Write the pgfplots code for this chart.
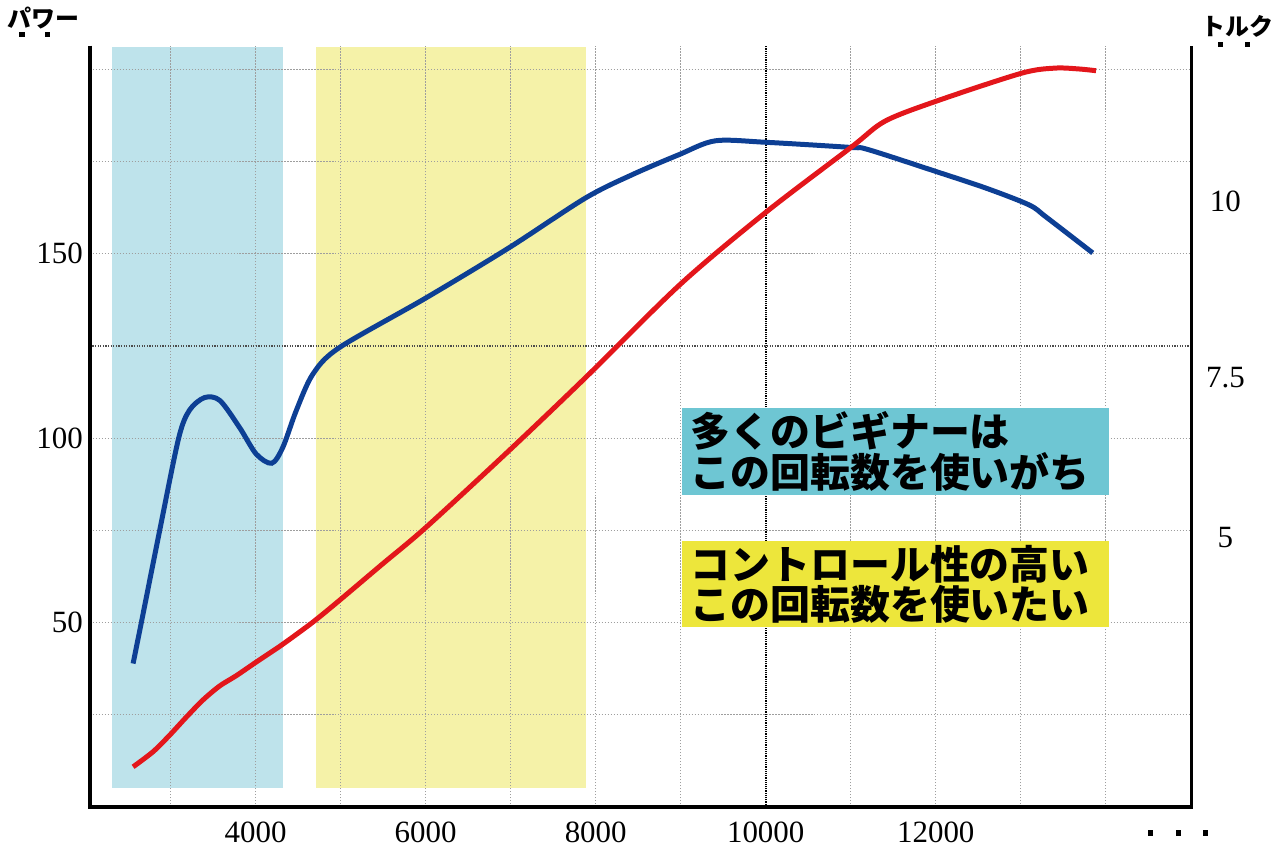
\documentclass[border=0pt]{standalone}
\usepackage{fontspec}
\setmainfont{Liberation Serif}
\newfontfamily\jp{Noto Sans CJK JP}
\usepackage{pgfplots}
\pgfplotsset{compat=1.18}
\definecolor{bgcyan}{HTML}{BEE3EB}
\definecolor{bgyellow}{HTML}{F5F2A8}
\definecolor{boxcyan}{HTML}{6EC6D3}
\definecolor{boxyellow}{HTML}{EDE63B}
\definecolor{pblue}{HTML}{0D3F94}
\definecolor{tred}{HTML}{E3161B}
\begin{document}
\begin{tikzpicture}
\path (-45pt,-23pt) rectangle (595pt,403.5pt);
\pgfplotsset{common/.style={scale only axis, width=552pt, height=381.5pt,
  xmin=2050, xmax=15008, ymin=0, ymax=206.4, at={(0,0)}, anchor=south west,
  axis line style={draw=none}, major tick length=0pt,
  scaled x ticks=false, scaled y ticks=false,
  ticklabel style={font=\fontsize{15.5}{18}\selectfont},
  /pgf/number format/assume math mode=true,
  /pgf/number format/set thousands separator={}}}
% background bands and right-hand (torque) labels
\begin{axis}[common, xtick=\empty, ytick={73.1,116.4,164.2}, yticklabels={5,7.5,10},
  yticklabel pos=right, yticklabel style={anchor=center, xshift=17pt}]
\addplot[fill=bgcyan, draw=none] coordinates {(2312,5.1) (4319,5.1) (4319,206.1) (2312,206.1)} -- cycle;
\addplot[fill=bgyellow, draw=none] coordinates {(4711,5.1) (7887,5.1) (7887,206.1) (4711,206.1)} -- cycle;
\end{axis}
% main axis
\begin{axis}[common, name=main, grid=major,
  grid style={color=black!38, line width=0.6pt, dash pattern=on 0.6pt off 0.9pt},
  xtick={3000,4000,5000,6000,7000,8000,9000,11000,12000,13000,14000},
  xticklabels={,4000,,6000,,8000,,,12000,,},
  extra x ticks={10000}, extra x tick labels={10000},
  extra x tick style={grid style={color=black, line width=0.8pt, dash pattern=on 0.6pt off 0.5pt}},
  ytick={25,50,75,100,150,175,200}, yticklabels={,50,,100,150,,},
  extra y ticks={125}, extra y tick labels={},
  extra y tick style={grid style={color=black!70, line width=0.7pt, dash pattern=on 0.6pt off 0.7pt}},
  xticklabel style={yshift=-4pt}]
\addplot[pblue, line width=2.5pt, smooth, tension=0.5] coordinates {
(2559,38.9) (2656,50.0) (2872,75.0) (3095,100.0) (3223,107.6) (3400,111.0)
(3580,110.2) (3811,102.9) (4007,95.7) (4190,93.2) (4320,97.5) (4477,107.4)
(4672,117.3) (4982,124.5) (6003,138.0) (6980,151.6) (7880,165.1) (8428,171.4)
(8975,176.8) (9406,180.6) (10000,180.2) (11002,178.8) (11208,178.2) (12000,172.3)
(12600,167.7) (13100,163.2) (13300,159.9) (13846,150.2)};
\addplot[tred, line width=2.5pt, smooth, tension=0.5] coordinates {
(2559,10.9) (2794,15.0) (2990,19.5) (3186,24.4) (3380,29.0) (3576,32.8) (3772,35.6)
(4007,39.3) (4280,43.5) (4515,47.4) (4711,50.8) (4985,56.0) (5493,65.9) (6003,75.8)
(6980,96.6) (7880,116.4) (8995,141.7) (10000,161.2) (11002,178.8) (11401,185.9)
(12000,191.3) (13005,198.9) (13397,200.3) (13670,200.1) (13885,199.6)};
\node[fill=boxcyan, text width=205pt, align=left, inner xsep=4.5pt, inner ysep=2pt,
  minimum height=42.5pt, font=\jp\bfseries\fontsize{20}{19}\selectfont]
  at (axis cs:11522,96.4) {多くのビギナーは\\この回転数を使いがち};
\node[fill=boxyellow, text width=205pt, align=left, inner xsep=4.5pt, inner ysep=2pt,
  minimum height=42.5pt, font=\jp\bfseries\fontsize{20}{19}\selectfont]
  at (axis cs:11522,60.4) {コントロール性の高い\\この回転数を使いたい};
\end{axis}
\draw[line width=1.8pt, line join=miter] (main.north west) -- (main.south west) -- (main.south east) -- (main.north east);
\node[font=\jp\bfseries\fontsize{12}{12}\selectfont] at (-23pt,395.5pt) {パワー};
\node[font=\jp\bfseries\fontsize{12}{12}\selectfont] at (575pt,391pt) {トルク};
\foreach \p in {(-34pt,387pt),(-21pt,387pt),(566.5pt,382pt),(580pt,382pt),(531.5pt,-13pt),(545.5pt,-13pt),(559pt,-13pt)}{
  \fill \p ++(-1.3pt,-1.3pt) rectangle ++(2.6pt,2.6pt);
}
\end{tikzpicture}
\end{document}
